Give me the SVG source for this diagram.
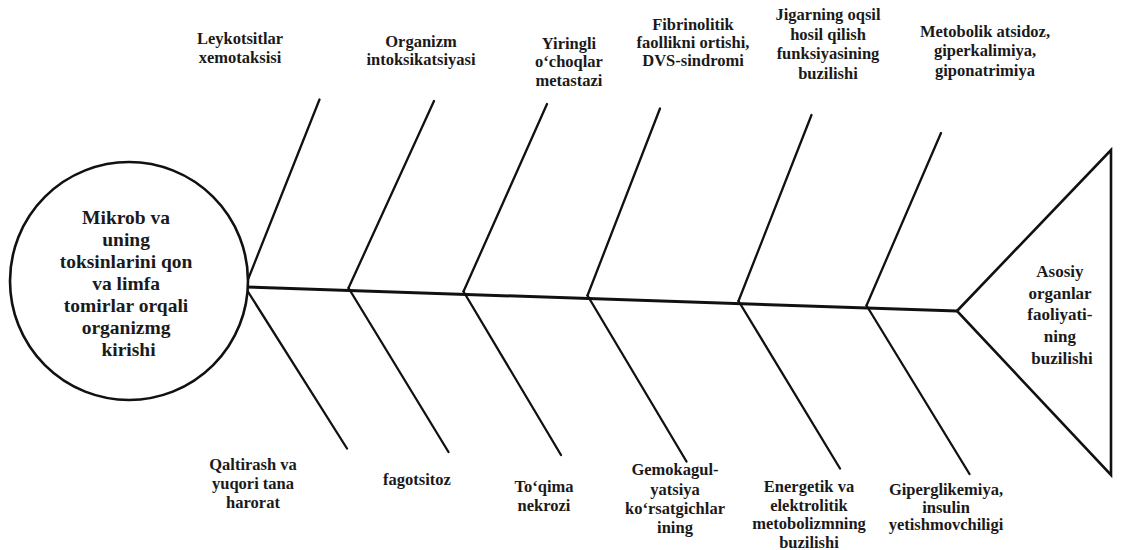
<svg xmlns="http://www.w3.org/2000/svg" width="1122" height="550" viewBox="0 0 1122 550">
  <style>
    .bone { stroke: #111; stroke-width: 2.3; fill: none; stroke-linecap: round; }
    .spine { stroke: #111; stroke-width: 3; fill: none; stroke-linecap: round; }
    .shape { stroke: #111; stroke-width: 2.6; fill: #fff; stroke-linejoin: miter; }
    text { font-family: "Liberation Serif", "Times New Roman", serif; font-weight: bold; fill: #1a1a1a; text-anchor: middle; }
    .lbl { font-size: 16.5px; }
    .head { font-size: 19.5px; }
    .tail { font-size: 17px; }
  </style>

  <rect width="1122" height="550" fill="#fff"/>

  <!-- skeleton: spine and the twelve ribs -->
  <g id="connectors">
    <line class="spine" x1="245" y1="287" x2="957" y2="311"/>
    <!-- upper ribs -->
    <line class="bone" x1="245" y1="287" x2="319.5" y2="99.5"/>
    <line class="bone" x1="348.5" y1="288" x2="434" y2="101"/>
    <line class="bone" x1="463.5" y1="291.5" x2="547" y2="104"/>
    <line class="bone" x1="587.5" y1="295.5" x2="660" y2="108.5"/>
    <line class="bone" x1="738.5" y1="301" x2="811.5" y2="115"/>
    <line class="bone" x1="866.5" y1="305.5" x2="941" y2="133"/>
    <!-- lower ribs -->
    <line class="bone" x1="245" y1="287" x2="347" y2="448.5"/>
    <line class="bone" x1="348.5" y1="288" x2="448.5" y2="452"/>
    <line class="bone" x1="463.5" y1="291.5" x2="561" y2="455"/>
    <line class="bone" x1="587.5" y1="295.5" x2="686.5" y2="461.5"/>
    <line class="bone" x1="738.5" y1="301" x2="840" y2="468.5"/>
    <line class="bone" x1="866.5" y1="305.5" x2="969.5" y2="474"/>
  </g>

  <!-- head: the cause -->
  <g id="node-source">
    <circle class="shape" cx="129" cy="281" r="119"/>
    <text class="head" x="128.5">
      <tspan x="128.5" y="224">Mikrob va</tspan>
      <tspan x="128.5" y="246">uning</tspan>
      <tspan x="128.5" y="268">toksinlarini qon</tspan>
      <tspan x="128.5" y="290">va limfa</tspan>
      <tspan x="128.5" y="312">tomirlar orqali</tspan>
      <tspan x="128.5" y="334">organizmg</tspan>
      <tspan x="128.5" y="356">kirishi</tspan>
    </text>
  </g>

  <!-- tail: the outcome -->
  <g id="node-outcome">
    <polygon class="shape" points="957,311 1111,150 1111,475"/>
    <text class="tail">
      <tspan x="1062" y="277">Asosiy</tspan>
      <tspan x="1062" y="298.5">organlar</tspan>
      <tspan x="1062" y="320">faoliyati-</tspan>
      <tspan x="1062" y="341.5">ning</tspan>
      <tspan x="1062" y="363.5">buzilishi</tspan>
    </text>
  </g>

  <!-- upper rib labels -->
  <g id="node-t1">
    <text class="lbl"><tspan x="240" y="44">Leykotsitlar</tspan><tspan x="240" y="62.5">xemotaksisi</tspan></text>
  </g>
  <g id="node-t2">
    <text class="lbl"><tspan x="421" y="46.5">Organizm</tspan><tspan x="421" y="65">intoksikatsiyasi</tspan></text>
  </g>
  <g id="node-t3">
    <text class="lbl"><tspan x="569" y="48.5">Yiringli</tspan><tspan x="569" y="67">o‘choqlar</tspan><tspan x="569" y="85.5">metastazi</tspan></text>
  </g>
  <g id="node-t4">
    <text class="lbl"><tspan x="693" y="30">Fibrinolitik</tspan><tspan x="693" y="48">faollikni ortishi,</tspan><tspan x="693" y="66">DVS-sindromi</tspan></text>
  </g>
  <g id="node-t5">
    <text class="lbl"><tspan x="828" y="20">Jigarning oqsil</tspan><tspan x="828" y="39.5">hosil qilish</tspan><tspan x="828" y="59">funksiyasining</tspan><tspan x="828" y="78.5">buzilishi</tspan></text>
  </g>
  <g id="node-t6">
    <text class="lbl"><tspan x="985" y="36.5">Metobolik atsidoz,</tspan><tspan x="985" y="56">giperkalimiya,</tspan><tspan x="985" y="75.5">giponatrimiya</tspan></text>
  </g>

  <!-- lower rib labels -->
  <g id="node-b1">
    <text class="lbl"><tspan x="253" y="470">Qaltirash va</tspan><tspan x="253" y="489">yuqori tana</tspan><tspan x="253" y="508">harorat</tspan></text>
  </g>
  <g id="node-b2">
    <text class="lbl"><tspan x="417" y="485">fagotsitoz</tspan></text>
  </g>
  <g id="node-b3">
    <text class="lbl"><tspan x="544" y="492">To‘qima</tspan><tspan x="544" y="511">nekrozi</tspan></text>
  </g>
  <g id="node-b4">
    <text class="lbl"><tspan x="675" y="475">Gemokagul-</tspan><tspan x="675" y="494.5">yatsiya</tspan><tspan x="675" y="514">ko‘rsatgichlar</tspan><tspan x="675" y="533">ining</tspan></text>
  </g>
  <g id="node-b5">
    <text class="lbl"><tspan x="809" y="491.5">Energetik va</tspan><tspan x="809" y="510.5">elektrolitik</tspan><tspan x="809" y="529">metobolizmning</tspan><tspan x="809" y="547.5">buzilishi</tspan></text>
  </g>
  <g id="node-b6">
    <text class="lbl"><tspan x="946" y="495">Giperglikemiya,</tspan><tspan x="946" y="512.5">insulin</tspan><tspan x="946" y="530">yetishmovchiligi</tspan></text>
  </g>
</svg>
